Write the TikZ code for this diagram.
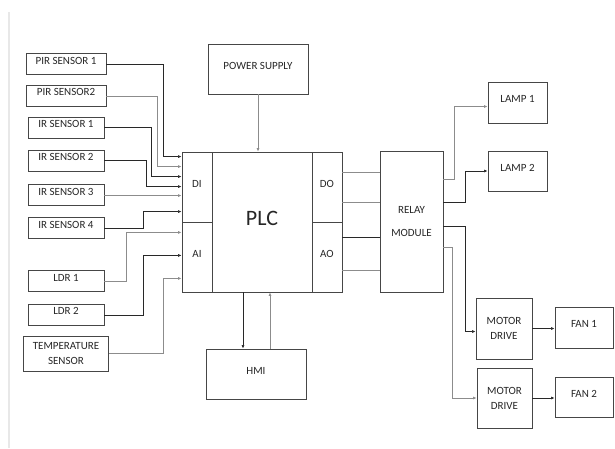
\documentclass[tikz,border=0pt]{standalone}
\usepackage{fontspec}
\setmainfont{Carlito}
\usepackage{tikz}
\usetikzlibrary{arrows.meta, positioning}
\definecolor{edge}{RGB}{70,70,70}
\definecolor{wiredark}{RGB}{40,40,40}
\definecolor{wirelight}{RGB}{140,140,140}
\definecolor{pageline}{RGB}{232,232,232}
\tikzset{
  box/.style={rectangle, draw=edge, line width=0.85pt, minimum width=100pt, minimum height=50pt, inner sep=0pt, text height=7pt, text depth=7pt},
  sensor/.style={box, minimum width=76pt, minimum height=21pt},
  iobox/.style={box, minimum width=30pt, minimum height=70pt},
  twoline/.style={rectangle, draw=edge, line width=0.85pt, inner sep=0pt, align=center},
  arrow/.style={-{Latex[length=3.5pt,width=3pt]}, line width=0.6pt, color=wiredark},
  greyarrow/.style={arrow, line width=0.7pt, color=wirelight},
  link/.style={line width=0.6pt, color=wiredark},
  greylink/.style={link, line width=0.7pt, color=wirelight},
}
\begin{document}
\begin{tikzpicture}[x=1pt, y=-1pt, every node/.style={font=\fontsize{11}{15}\selectfont, text=black!85}]
  \useasboundingbox (0,0) rectangle (615,448);
  \draw[pageline, line width=2pt] (9,12) -- (9,448);

  % PLC with its I/O columns
  \node[box, minimum width=160pt, minimum height=140pt, font=\fontsize{22}{26}\selectfont, text height=14pt, text depth=8pt] (plc) at (262,222) {PLC};
  \node[iobox, anchor=north west] (di) at (plc.north west) {DI};
  \node[iobox, anchor=north west] (ai) at (di.south west) {AI};
  \node[iobox, anchor=north east] (do) at (plc.north east) {DO};
  \node[iobox, anchor=north east] (ao) at (do.south east) {AO};
  \node[box] (power) at (258,69) {POWER SUPPLY};
  \node[box] (hmi) at (256,374) {HMI};

  % sensors
  \node[sensor, minimum width=80pt] (pir1) at (66,64) {PIR SENSOR 1};
  \node[sensor, minimum width=80pt, below=10pt of pir1] (pir2) {PIR SENSOR2};
  \node[sensor, below=10pt of pir2] (ir1) {IR SENSOR 1};
  \node[sensor, below=11pt of ir1] (ir2) {IR SENSOR 2};
  \node[sensor, below=13pt of ir2] (ir3) {IR SENSOR 3};
  \node[sensor, below=11pt of ir3] (ir4) {IR SENSOR 4};
  \node[sensor, below=31pt of ir4] (ldr1) {LDR 1};
  \node[sensor, below=12pt of ldr1] (ldr2) {LDR 2};
  \node[twoline, minimum width=85pt, minimum height=35pt, below=10pt of ldr2] (temp) {TEMPERATURE\\SENSOR};

  % outputs
  \node[twoline, minimum width=63pt, minimum height=141pt] (relay) at (411.5,221.5) {RELAY\\[8pt]MODULE};
  \node[box, minimum width=59pt, minimum height=41pt] (lamp1) at (517.5,102.5) {LAMP 1};
  \node[box, minimum width=59pt, minimum height=40pt] (lamp2) at (517.5,171) {LAMP 2};
  \node[twoline, minimum width=56pt, minimum height=61pt] (md1) at (504,328.5) {MOTOR\\DRIVE};
  \node[twoline, minimum width=55pt, minimum height=60pt] (md2) at (504.5,398) {MOTOR\\DRIVE};
  \node[box, minimum width=58pt, minimum height=41pt] (fan1) at (584,327.5) {FAN 1};
  \node[box, minimum width=58pt, minimum height=40pt] (fan2) at (584,397) {FAN 2};

  % sensor wiring
  \draw[arrow] (pir1.east) -- ++(57,0) |- ([yshift=-5pt]di.north west);
  \draw[greyarrow] (pir2.east) -- ++(51,0) |- ([yshift=-15pt]di.north west);
  \draw[arrow] (ir1.east) -- ++(47,0) |- ([yshift=-25pt]di.north west);
  \draw[arrow] (ir2.east) -- ++(42,0) |- ([yshift=-35pt]di.north west);
  \draw[greyarrow] (ir3.east) -- ++(39,0) |- ([yshift=-44pt]di.north west);
  \draw[arrow] (ir4.east) -- ++(39,0) |- ([yshift=-60pt]di.north west);
  \draw[greyarrow] (ldr1.east) -- ++(22,0) |- ([yshift=-10pt]ai.north west);
  \draw[arrow] (ldr2.east) -- ++(39,0) |- ([yshift=-33pt]ai.north west);
  \draw[greyarrow] (temp.east) -- ++(54,0) |- ([yshift=-56pt]ai.north west);

  \draw[greyarrow] (power.south) -- (power.south |- plc.north);
  \draw[arrow] ([xshift=-13pt]hmi.north |- plc.south) -- ([xshift=-13pt]hmi.north);
  \draw[greyarrow] ([xshift=14pt]hmi.north) -- ([xshift=14pt]hmi.north |- plc.south);

  % PLC to relay
  \foreach \dy/\sty in {21/greylink, 51/greylink, 86/link, 119/greylink}
    \draw[\sty] ([yshift=-\dy pt]do.north east) -- ([yshift=-\dy pt]do.north east -| relay.west);

  % relay outputs
  \draw[greyarrow] ([yshift=-29pt]relay.north east) -- ++(11,0) |- ([yshift=-4pt]lamp1.west);
  \draw[arrow] ([yshift=-52pt]relay.north east) -- ++(22,0) |- (lamp2.west);
  \draw[arrow] ([yshift=-76pt]relay.north east) -- ++(22,0) |- ([yshift=-3pt]md1.west);
  \draw[greyarrow] ([yshift=-97pt]relay.north east) -- ++(9,0) |- (md2.west);
  \draw[arrow] (md1.east) -- (md1.east -| fan1.west);
  \draw[arrow] (md2.east) -- (md2.east -| fan2.west);
\end{tikzpicture}
\end{document}
